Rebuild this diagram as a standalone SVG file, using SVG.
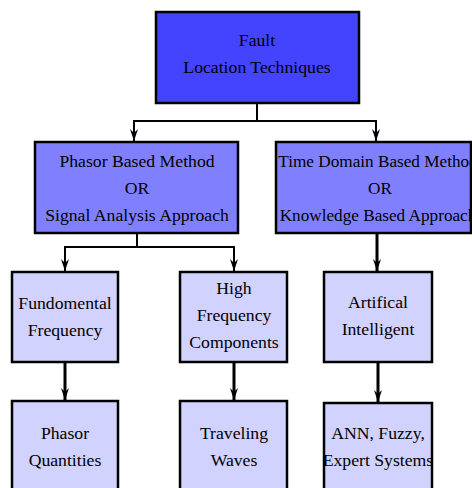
<svg xmlns="http://www.w3.org/2000/svg" width="472" height="488" viewBox="0 0 472 488">
<style>
.box{stroke:#000;stroke-width:2.5}
.l1{fill:#4444FF}
.l2{fill:#8080FF}
.l3{fill:#D2D2FF}
text{font-family:"Liberation Serif","Times New Roman",serif;font-size:17.7px;fill:#000;text-anchor:middle}
.sm{font-size:17.2px}
.c{fill:none;stroke:#000;stroke-width:2}
.t{fill:none;stroke:#000;stroke-width:3}
</style>
<defs>
<marker id="ah" markerWidth="12" markerHeight="10" viewBox="0 0 12 10" refX="12" refY="5" orient="auto" markerUnits="userSpaceOnUse">
<path d="M0,1 L12,5 L0,9 L4,5 Z" fill="#000"/>
</marker>
</defs>
<rect width="472" height="488" fill="#fff"/>
<g id="connectors">
<path class="c" d="M257,103 V121"/>
<path class="c" d="M257,121 H134 V141" marker-end="url(#ah)"/>
<path class="c" d="M257,121 H376 V141" marker-end="url(#ah)"/>
<path class="c" d="M137,233 V247"/>
<path class="c" d="M137,247 H65 V271" marker-end="url(#ah)"/>
<path class="c" d="M137,247 H234 V271" marker-end="url(#ah)"/>
<path class="t" d="M377,233 V271" marker-end="url(#ah)"/>
<path class="t" d="M65,362 V400" marker-end="url(#ah)"/>
<path class="t" d="M234,362 V400" marker-end="url(#ah)"/>
<path class="t" d="M378,362 V402" marker-end="url(#ah)"/>
</g>
<g id="fault">
<rect class="box l1" x="156" y="12" width="203" height="91"/>
<text x="257" y="46">Fault</text>
<text x="257" y="73">Location Techniques</text>
</g>
<g id="phasor-based">
<rect class="box l2" x="35" y="142" width="203" height="91"/>
<text x="137" y="167">Phasor Based Method</text>
<text x="137" y="194">OR</text>
<text x="137" y="221">Signal Analysis Approach</text>
</g>
<g id="time-domain">
<rect class="box l2" x="276" y="142" width="195" height="91"/>
<text class="sm" x="378" y="167">Time Domain Based Method</text>
<text class="sm" x="380" y="194">OR</text>
<text class="sm" x="378" y="221">Knowledge Based Approach</text>
</g>
<g id="fundamental">
<rect class="box l3" x="12" y="272" width="106" height="90"/>
<text x="65" y="309">Fundomental</text>
<text x="65" y="336">Frequency</text>
</g>
<g id="high-frequency">
<rect class="box l3" x="180" y="272" width="107" height="90"/>
<text x="234" y="294">High</text>
<text x="234" y="321">Frequency</text>
<text x="234" y="348">Components</text>
</g>
<g id="ai">
<rect class="box l3" x="324" y="272" width="108" height="90"/>
<text x="378" y="308">Artifical</text>
<text x="378" y="335">Intelligent</text>
</g>
<g id="phasor-quantities">
<rect class="box l3" x="12" y="401" width="106" height="100"/>
<text x="65" y="439">Phasor</text>
<text x="65" y="466">Quantities</text>
</g>
<g id="traveling-waves">
<rect class="box l3" x="180" y="401" width="107" height="100"/>
<text x="234" y="439">Traveling</text>
<text x="234" y="466">Waves</text>
</g>
<g id="ann">
<rect class="box l3" x="324" y="403" width="108" height="100"/>
<text x="378" y="439">ANN, Fuzzy,</text>
<text x="378" y="466">Expert Systems</text>
</g>
</svg>
